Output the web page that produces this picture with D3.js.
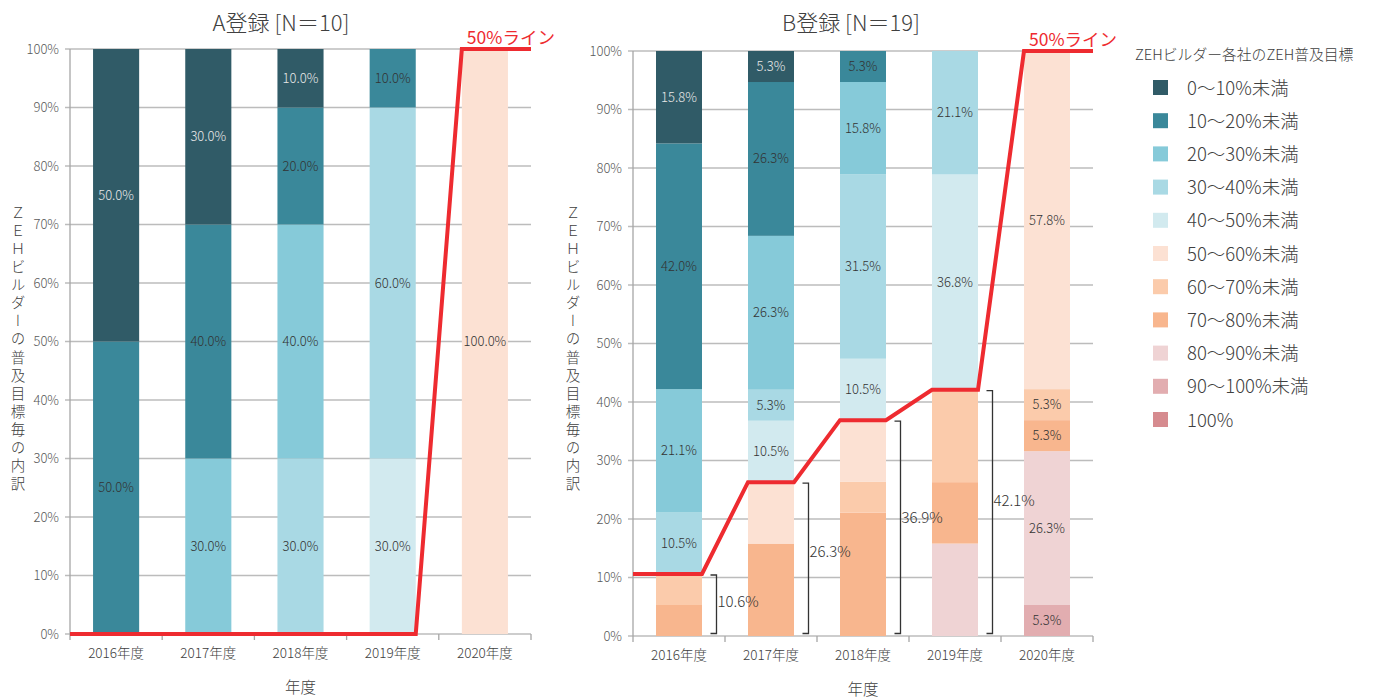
<!DOCTYPE html>
<html><head><meta charset="utf-8">
<script src="https://cdn.jsdelivr.net/npm/d3@7"></script>
<style>
html,body{margin:0;padding:0;background:#fff;}
svg{display:block;font-family:"Noto Sans CJK JP","Noto Sans",sans-serif;font-weight:300;}
</style></head>
<body><svg id="c" width="1373" height="698"></svg>
<script>
// ---- data ----
const years = ["2016年度","2017年度","2018年度","2019年度","2020年度"];
const classes = ["0～10%未満","10～20%未満","20～30%未満","30～40%未満","40～50%未満","50～60%未満","60～70%未満","70～80%未満","80～90%未満","90～100%未満","100%"];
const classColors = ["#305b67","#3a889a","#86cad9","#a9d9e4","#d2eaef","#fce1d3","#fbcbab","#f8b68e","#efd3d4","#e2adb0","#d68b8f"];
const yTicks = [0,10,20,30,40,50,60,70,80,90,100];

// values per class (rows) by year (columns), chart A (N=10)
const seriesA = [
  [50,30,10,0,0],
  [50,40,20,10,0],
  [0,30,40,0,0],
  [0,0,30,60,0],
  [0,0,0,30,0],
  [0,0,0,0,100],
  [0,0,0,0,0],
  [0,0,0,0,0],
  [0,0,0,0,0],
  [0,0,0,0,0],
  [0,0,0,0,0]
];
const lineA = [0,0,0,0,100];
const bracketsA = [];

// chart B (N=19)
const seriesB = [
  [15.8,5.3,0,0,0],
  [42.0,26.3,5.3,0,0],
  [21.1,26.3,15.8,0,0],
  [10.5,5.3,31.5,21.1,0],
  [0,10.5,10.5,36.8,0],
  [0,10.5,10.5,0,57.8],
  [5.3,0,5.3,15.8,5.3],
  [5.3,15.8,21.1,10.5,5.3],
  [0,0,0,15.8,26.3],
  [0,0,0,0,5.3],
  [0,0,0,0,0]
];
const lineB = [10.6,26.3,36.9,42.1,100];
const bracketsB = [10.6,26.3,36.9,42.1];

const titleA = "A登録 [N＝10]";
const titleB = "B登録 [N＝19]";
const lineLabel = "50%ライン";
const yTitle = "ＺＥＨビルダーの普及目標毎の内訳";
const xTitle = "年度";
const legendTitle = "ZEHビルダー各社のZEH普及目標";

// ---- drawing ----
const svg = d3.select("#c");
const RED = "#ee2b30";
const TXT = "#404040";

function drawChart(opt){
  const {x0,x1,yTop,yBot,series,line,brackets,title,titleX,yTitleX} = opt;
  const g = svg.append("g");
  const x = d3.scaleBand().domain(years).range([x0,x1]).paddingInner(0.5).paddingOuter(0.25);
  const y = d3.scaleLinear().domain([0,100]).range([yBot,yTop]);

  // gridlines + y labels
  g.append("g").selectAll("line").data(yTicks).join("line")
    .attr("x1",x0-5).attr("x2",x1).attr("y1",d=>y(d)).attr("y2",d=>y(d))
    .attr("stroke","#bcbcbc").attr("stroke-width",1.3);
  g.append("g").selectAll("text").data(yTicks).join("text")
    .attr("x",x0-11).attr("y",d=>y(d)+4.5).attr("text-anchor","end")
    .attr("font-size",13).attr("fill","#595959").text(d=>d+"%");
  // y axis line
  g.append("line").attr("x1",x0).attr("x2",x0).attr("y1",yTop).attr("y2",yBot)
    .attr("stroke","#a6a6a6").attr("stroke-width",1.3);
  // x axis ticks (category boundaries)
  const bounds = d3.range(years.length+1).map(i=>x0+i*(x1-x0)/years.length);
  g.append("g").selectAll("line").data(bounds).join("line")
    .attr("x1",d=>d).attr("x2",d=>d).attr("y1",yBot).attr("y2",yBot+6)
    .attr("stroke","#a6a6a6").attr("stroke-width",1.3);

  // stacked bars
  years.forEach((yr,j)=>{
    let cum = 0;
    const segs = [];
    for(let c=classes.length-1;c>=0;c--){
      const v = series[c][j];
      if(v>0){ segs.push({c,v,lo:cum,hi:cum+v}); cum+=v; }
    }
    const br = brackets[j];
    segs.forEach(s=>{
      g.append("rect").attr("x",x(yr)).attr("width",x.bandwidth())
        .attr("y",y(Math.min(100,s.hi))).attr("height",y(s.lo)-y(Math.min(100,s.hi)))
        .attr("fill",classColors[s.c]);
    });
    segs.forEach(s=>{
      if(br!==undefined && s.hi<=br+0.05) return;
      g.append("text").attr("x",x(yr)+x.bandwidth()/2).attr("y",y((s.lo+Math.min(100,s.hi))/2)+4.5)
        .attr("text-anchor","middle").attr("font-size",13)
        .attr("fill",s.c===0?"#e8e8e8":"#333")
        .text(s.v.toFixed(1)+"%");
    });
  });

  // brackets
  brackets.forEach((b,j)=>{
    const bx = x(years[j])+x.bandwidth()+14.5;
    const yt = y(b)+1, yb = yBot-2.5;
    g.append("path").attr("d",`M${bx-6},${yt}H${bx}V${yb}H${bx-6}`)
      .attr("fill","none").attr("stroke","#333").attr("stroke-width",1.3);
    g.append("text").attr("x",bx+1).attr("y",y(b*0.55)+5.5).attr("font-size",15)
      .attr("fill","#333").text(b.toFixed(1)+"%");
  });

  // red line
  const pts = [];
  line.forEach((v,j)=>{
    const l = j===0 ? x0 : x(years[j]);
    const r = j===line.length-1 ? x1 : x(years[j])+x.bandwidth();
    pts.push([l,y(v)],[r,y(v)]);
  });
  g.append("path").attr("d",d3.line()(pts)).attr("fill","none")
    .attr("stroke",RED).attr("stroke-width",4).attr("stroke-linejoin","miter");
  const last = years[years.length-1];
  g.append("text").attr("x",x(last)+5).attr("y",y(100)-5).attr("font-size",17.5)
    .attr("font-weight",400).attr("fill",RED).text(lineLabel);

  // x labels
  g.append("g").selectAll("text").data(years).join("text")
    .attr("x",d=>x(d)+x.bandwidth()/2).attr("y",yBot+24).attr("text-anchor","middle")
    .attr("font-size",13.5).attr("fill",TXT).text(d=>d);
  // x title
  g.append("text").attr("x",(x0+x1)/2).attr("y",yBot+59).attr("text-anchor","middle")
    .attr("font-size",15.5).attr("fill",TXT).text(xTitle);
  // title
  g.append("text").attr("x",titleX).attr("y",31).attr("text-anchor","middle")
    .attr("font-size",22).attr("fill",TXT).text(title);
  // y title (vertical)
  g.append("text").attr("x",yTitleX).attr("y",205)
    .attr("font-size",14.5).attr("fill",TXT)
    .style("writing-mode","vertical-rl").style("text-orientation","upright")
    .attr("letter-spacing",3.6).text(yTitle);
}

drawChart({x0:70,x1:531,yTop:49,yBot:634,series:seriesA,line:lineA,brackets:bracketsA,title:titleA,titleX:281,yTitleX:18});
drawChart({x0:633,x1:1093,yTop:51,yBot:636,series:seriesB,line:lineB,brackets:bracketsB,title:titleB,titleX:851,yTitleX:573});

// legend
const lg = svg.append("g");
lg.append("text").attr("x",1135).attr("y",60).attr("font-size",14.8).attr("fill",TXT).text(legendTitle);
classes.forEach((c,i)=>{
  const cy = 88+33.2*i;
  lg.append("rect").attr("x",1153).attr("y",cy-8).attr("width",15).attr("height",15).attr("fill",classColors[i]);
  lg.append("text").attr("x",1187).attr("y",cy+6.5).attr("font-size",18.5).attr("fill",TXT).text(c);
});
</script></body></html>
